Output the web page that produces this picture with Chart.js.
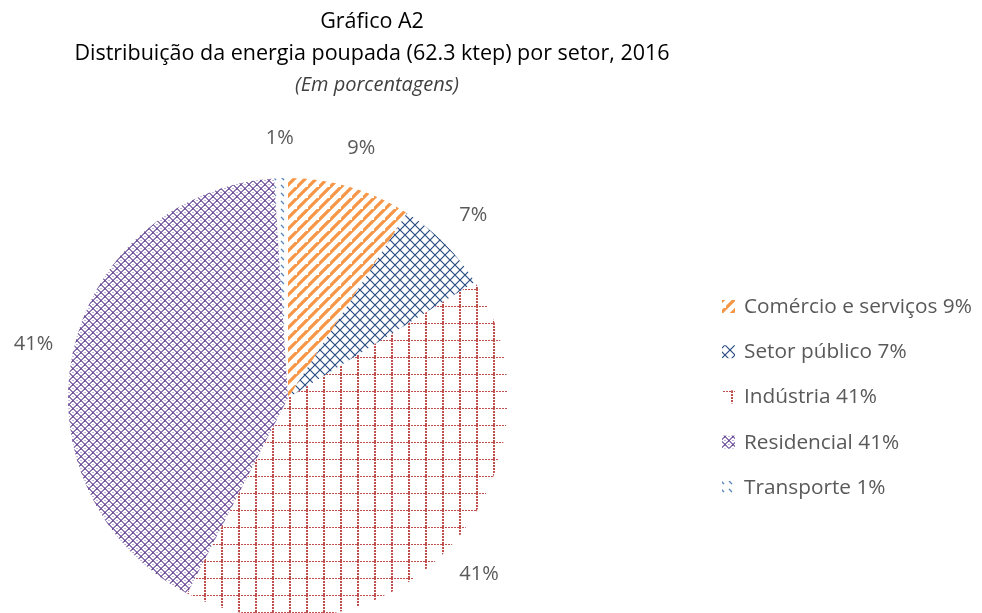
<!DOCTYPE html>
<html>
<head>
<meta charset="utf-8">
<script src="https://cdn.jsdelivr.net/npm/chart.js@4/dist/chart.umd.min.js"></script>
<style>
  html, body { margin: 0; padding: 0; background: #fff; overflow: hidden; width: 982px; height: 613px; }
  #wrap { position: absolute; left: 0; top: 0; width: 982px; height: 660px; }
  #titulo { position: absolute; left: 0; top: 4px; width: 744px; text-align: center;
            font-family: "Open Sans", sans-serif; color: #000; font-size: 21.5px; line-height: 32px; }
  #titulo .sub { font-style: italic; font-size: 20px; color: #404040; padding-left: 10px; }
</style>
</head>
<body>
<div id="wrap"><canvas id="grafico" width="982" height="660"></canvas></div>
<div id="titulo">
  <div>Gráfico A2</div>
  <div>Distribuição da energia poupada (62.3 ktep) por setor, 2016</div>
  <div class="sub">(Em porcentagens)</div>
</div>
<script>
var setores = ['Comércio e serviços', 'Setor público', 'Indústria', 'Residencial', 'Transporte'];
var percentuais = [9, 7, 41, 41, 1];

// hachuras no estilo do Excel
var makePattern = function(size, draw){
    var c = document.createElement('canvas');
    c.width = size; c.height = size;
    var g = c.getContext('2d');
    draw(g, size);
    return c.getContext('2d').createPattern(c, 'repeat');
};

var listras = makePattern(11, function(g, s){
    g.strokeStyle = '#F79646'; g.lineWidth = 3.2;
    g.beginPath();
    g.moveTo(-2, s + 2); g.lineTo(s + 2, -2);
    g.moveTo(-2 - s, s + 2); g.lineTo(2, -2);
    g.moveTo(s - 2, 2 * s + 2); g.lineTo(2 * s + 2, s - 2);
    g.stroke();
});
var losangos = makePattern(10, function(g, s){
    g.strokeStyle = '#284C82'; g.lineWidth = 1.2;
    g.beginPath();
    g.moveTo(0, 0); g.lineTo(s, s);
    g.moveTo(0, s); g.lineTo(s, 0);
    g.stroke();
});
var grade = makePattern(17, function(g, s){
    g.fillStyle = '#C0504D';
    for (var i = 0; i < s; i += 3) {
        g.fillRect(i, 0, 2, 1);
        g.fillRect(0, i, 2, 2);
    }
});
var xadrez = makePattern(8, function(g, s){
    for (var x = 0; x < s; x++) {
        for (var y = 0; y < s; y++) {
            var a = (x + y) % 8, b = (x - y + 8) % 8;
            if ((a == 0 || a == 1) && (b == 0 || b == 7 || b == 1)) g.fillStyle = '#6E5094';
            else if (a == 0 || a == 1 || b == 0 || b == 1) g.fillStyle = '#9179B3';
            else if ((a == 4 || a == 5) && (b == 4 || b == 5)) g.fillStyle = '#C4B6DA';
            else continue;
            g.fillRect(x, y, 1, 1);
        }
    }
});
var tracos = makePattern(8, function(g, s){
    g.strokeStyle = '#4F81BD'; g.lineWidth = 1.2;
    g.beginPath();
    g.moveTo(1, 1); g.lineTo(4, 4);
    g.stroke();
});
var preenchimentos = [listras, losangos, grade, xadrez, tracos];

var rotulos = {
    id: 'rotulos',
    afterDatasetsDraw: function(chart){
        var ctx = chart.ctx;
        var meta = chart.getDatasetMeta(0);
        ctx.save();
        ctx.font = '20px "Open Sans", sans-serif';
        ctx.fillStyle = '#595959';
        ctx.textAlign = 'center';
        ctx.textBaseline = 'middle';
        meta.data.forEach(function(arc, i){
            var mid = (arc.startAngle + arc.endAngle) / 2;
            var r = arc.outerRadius + 40;
            ctx.fillText(percentuais[i] + '%', arc.x + Math.cos(mid) * r, arc.y + Math.sin(mid) * r);
        });
        ctx.restore();
    }
};

var legendaLateral = {
    id: 'legendaLateral',
    afterDraw: function(chart){
        var ctx = chart.ctx;
        var area = chart.chartArea;
        var x = area.right + 214, y = area.top + 129;
        ctx.save();
        ctx.font = '20.8px "Open Sans", sans-serif';
        ctx.textBaseline = 'middle';
        setores.forEach(function(s, i){
            var yy = y + i * 45.2;
            ctx.fillStyle = preenchimentos[i];
            ctx.fillRect(x, yy - 7, 13, 13);
            ctx.fillStyle = '#595959';
            ctx.fillText(s + ' ' + percentuais[i] + '%', x + 22, yy);
        });
        ctx.restore();
    }
};

var ctx = document.getElementById('grafico').getContext('2d');
new Chart(ctx, {
    type: 'pie',
    data: {
        labels: setores,
        datasets: [{
            data: percentuais,
            backgroundColor: preenchimentos,
            borderWidth: 0
        }]
    },
    options: {
        responsive: false,
        animation: false,
        layout: { padding: { left: 68, top: 178, right: 474, bottom: 42 } },
        plugins: {
            legend: { display: false },
            tooltip: { enabled: false }
        }
    },
    plugins: [rotulos, legendaLateral]
});
</script>
</body>
</html>
